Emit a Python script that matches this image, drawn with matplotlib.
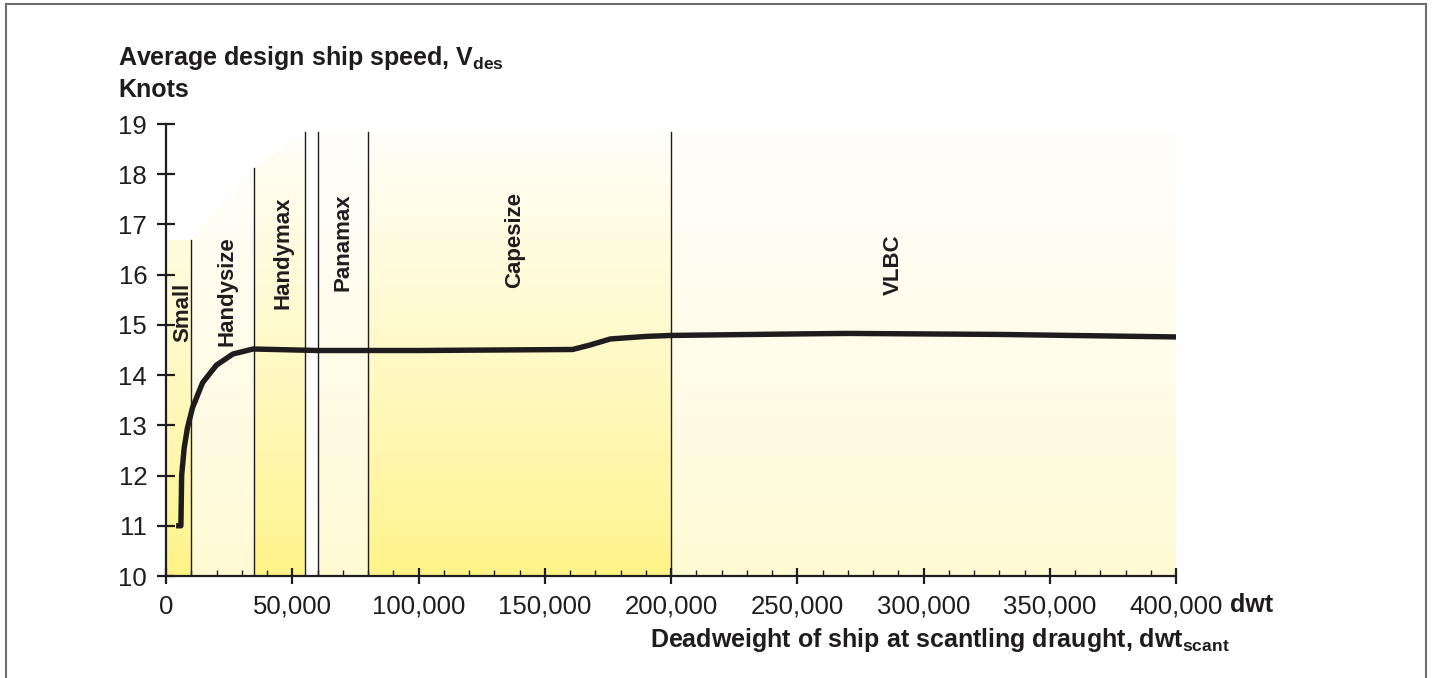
import numpy as np
import matplotlib
matplotlib.use("Agg")
import matplotlib.pyplot as plt
from matplotlib.colors import LinearSegmentedColormap
from matplotlib.patches import Polygon
from matplotlib.lines import Line2D

plt.rcParams['font.family'] = ['Liberation Sans', 'DejaVu Sans']

# ship size classes (dwt boundaries)
classes = ["Small", "Handysize", "Handymax", "Panamax", "Capesize", "VLBC"]
class_start = [0, 10000, 35000, 60000, 80000, 200000]
class_end = [10000, 35000, 55000, 80000, 200000, 400000]
shade = ["strong", "pale", "strong", "pale", "strong", "pale"]

# divider lines and their top (knots)
div_x = [10000, 35000, 55000, 60000, 80000, 200000]
div_top = [16.7, 18.12, 18.85, 18.85, 18.85, 18.85]

# label positions (dwt, knots)
label_x = [6800, 24000, 46500, 70000, 138000, 288000]
label_y = [15.25, 15.68, 16.43, 16.65, 16.7, 16.2]

# average design ship speed curve
dwt = [4000, 5900, 6200, 7200, 8500, 10500, 14500, 20000, 26500, 34500,
       60000, 100000, 161000, 168000, 176000, 190000, 200000, 250000,
       270000, 330000, 400000]
speed = [11.0, 11.0, 12.0, 12.55, 12.95, 13.35, 13.85, 14.2, 14.42, 14.52,
         14.49, 14.49, 14.51, 14.6, 14.72, 14.77, 14.79, 14.82,
         14.83, 14.81, 14.76]

ink = "#1f1c1d"

fig = plt.figure(figsize=(14.32, 6.78), dpi=100)
ax = fig.add_axes([166 / 1432, 102 / 678, 1010 / 1432, 452 / 678])
ax.set_xlim(0, 400000)
ax.set_ylim(10, 19)

cmaps = {
    "strong": LinearSegmentedColormap.from_list("s", ["#fff385", "#fffef8"]),
    "pale": LinearSegmentedColormap.from_list("p", ["#fffad2", "#fffefb"]),
}
grad = (np.linspace(0, 1, 256) ** 0.8).reshape(-1, 1)


def top_of(x):
    # top edge of the shaded area
    if x <= 10000:
        return 16.7
    return np.interp(x, [10000, 35000, 55000], [16.7, 18.12, 18.85])


for x0, x1, kind in zip(class_start, class_end, shade):
    t0, t1 = top_of(x0 + 1), top_of(x1)
    if x0 == 0:
        t0 = 16.7
    poly = Polygon([(x0, 10), (x1, 10), (x1, t1), (x0, t0)], closed=True,
                   facecolor="none", edgecolor="none")
    ax.add_patch(poly)
    im = ax.imshow(grad, extent=[x0, x1, 10, 18.85], origin="lower",
                   aspect="auto", cmap=cmaps[kind], vmin=0, vmax=1, zorder=0)
    im.set_clip_path(poly)

for x, t in zip(div_x, div_top):
    ax.plot([x, x], [10, t], color=ink, lw=1.0, zorder=2)

ax.plot(dwt, speed, color=ink, lw=3.9, solid_capstyle="butt",
        solid_joinstyle="round", zorder=3)

for name, lx, ly in zip(classes, label_x, label_y):
    ax.text(lx, ly, name, rotation=90, ha="center", va="center",
            fontsize=16, fontweight="bold", color=ink, zorder=4)

for s in ["top", "right"]:
    ax.spines[s].set_visible(False)
for s in ["left", "bottom"]:
    ax.spines[s].set_color(ink)
    ax.spines[s].set_linewidth(1.6)

ax.set_yticks(range(10, 20))
ax.set_xticks(range(0, 400001, 50000))
ax.set_xticks(range(0, 400001, 10000), minor=True)
ax.set_xticklabels([f"{v:,}" for v in range(0, 400001, 50000)])
ax.tick_params(axis="y", which="major", direction="inout", length=13,
               width=1.6, color=ink, labelsize=18.5, labelcolor=ink, pad=7)
ax.tick_params(axis="x", which="major", direction="inout", length=11,
               width=1.6, color=ink, labelsize=18.5, labelcolor=ink, pad=8)
ax.tick_params(axis="x", which="minor", direction="in", length=4.5,
               width=1.0, color=ink)
ax.patch.set_alpha(0)

fig.text(118 / 1432, 1 - 65 / 678,
         r"Average design ship speed, V$_{\mathregular{des}}$",
         fontsize=18, fontweight="bold", color=ink, va="baseline")
fig.text(118 / 1432, 1 - 97 / 678, "Knots",
         fontsize=18, fontweight="bold", color=ink, va="baseline")
fig.text(1230 / 1432, 1 - 612 / 678, "dwt",
         fontsize=18, fontweight="bold", color=ink, va="baseline")
fig.text(1230 / 1432, 1 - 647 / 678,
         r"Deadweight of ship at scantling draught, dwt$_{\mathregular{scant}}$",
         fontsize=18, fontweight="bold", color=ink, va="baseline", ha="right")

# outer frame (open at the bottom)
frame = "#6d6e71"
fig.add_artist(Line2D([6 / 1432, 6 / 1432], [0, 1 - 4 / 678],
                      transform=fig.transFigure, color=frame, lw=1.5))
fig.add_artist(Line2D([6 / 1432, 1426 / 1432], [1 - 4 / 678, 1 - 4 / 678],
                      transform=fig.transFigure, color=frame, lw=1.5))
fig.add_artist(Line2D([1426 / 1432, 1426 / 1432], [0, 1 - 4 / 678],
                      transform=fig.transFigure, color=frame, lw=1.5))

fig.savefig("out.png", dpi=100)
